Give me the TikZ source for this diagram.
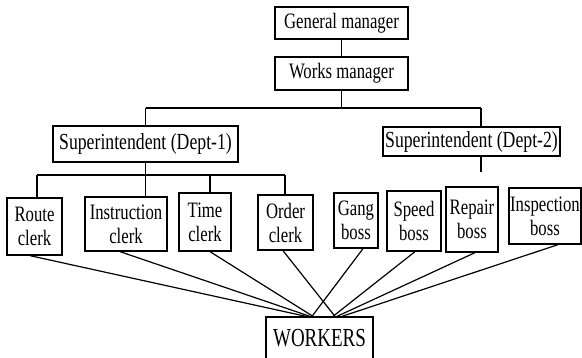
\documentclass[tikz,border=0pt]{standalone}
\usepackage{graphicx}
\usepackage{fontspec}
\setmainfont{Liberation Serif}
\newcommand{\sx}[1]{\scalebox{0.76}[1]{#1}}
\begin{document}
\begin{tikzpicture}[x=1pt,y=-1pt,
  box/.style={draw, line width=1.3pt, inner sep=0pt, align=center, font=\fontsize{22}{23}\selectfont},
  two/.style={box, font=\fontsize{22}{24}\selectfont},
  conn/.style={line width=1.2pt}]
\useasboundingbox (0,0) rectangle (582,357);
\clip (0,0) rectangle (582,357);
% top
\node[box, minimum width=133pt, minimum height=32pt] (gm) at (341.5,23) {\sx{General manager}};
\node[box, minimum width=133pt, minimum height=33pt] (wm) at (341.5,73.5) {\sx{Works manager}};
\node[box, minimum width=185pt, minimum height=36pt, font=\fontsize{23}{24}\selectfont] (s1) at (145.5,144) {\scalebox{0.77}[1]{Superintendent (Dept-1)}};
\node[box, minimum width=177pt, minimum height=29pt, font=\fontsize{23}{24}\selectfont] (s2) at (471.5,141.5) {\scalebox{0.77}[1]{Superintendent (Dept-2)}};
% lower boxes
\node[two, minimum width=55pt, minimum height=57pt] (route) at (34.5,226.5) {\sx{Route}\\\sx{clerk}};
\node[two, minimum width=82pt, minimum height=54pt] (instr) at (126,224) {\sx{Instruction}\\\sx{clerk}};
\node[two, minimum width=52pt, minimum height=58pt] (time) at (205,222) {\sx{Time}\\\sx{clerk}};
\node[two, minimum width=55pt, minimum height=55pt] (order) at (285.5,222.5) {\sx{Order}\\\sx{clerk}};
\node[two, minimum width=44pt, minimum height=55pt] (gang) at (356,220.5) {\sx{Gang}\\\sx{boss}};
\node[two, minimum width=54pt, minimum height=60pt] (speed) at (414,221) {\sx{Speed}\\\sx{boss}};
\node[two, minimum width=52pt, minimum height=65pt] (repair) at (472,219.5) {\sx{Repair}\\\sx{boss}};
\node[two, minimum width=72pt, minimum height=56pt] (insp) at (545,216) {\sx{Inspection}\\\sx{boss}};
\node[box, minimum width=107pt, minimum height=43pt, font=\fontsize{26}{27}\selectfont] (workers) at (319.5,338.5) {\scalebox{0.73}[1]{WORKERS}};
% tree connectors
\coordinate (barL) at (145.5,108);
\coordinate (barR) at (481,108);
\coordinate (barM) at (341.5,108);
\draw[conn] (gm) -- (wm);
\draw[conn] (wm) -- (barM);
\draw[conn] (barL) -- (barR);
\draw[conn] (barL) -- (s1.north);
\draw[conn] (barR) -- (barR |- s2.north);
\coordinate (d1) at (145.5,175);
\coordinate (d1L) at (37,175);
\coordinate (d1T) at (210,175);
\coordinate (d1R) at (285,175);
\draw[conn] (s1.south) -- (d1);
\draw[conn] (d1L) -- (d1R);
\draw[conn] (d1L) -- (d1L |- route.north);
\draw[conn] (d1) -- (d1 |- instr.north);
\draw[conn] (d1T) -- (d1T |- time.north);
\draw[conn] (d1R) -- (d1R |- order.north);
\coordinate (s2stub) at (481,172);
\draw[conn] (barR |- s2.south) -- (s2stub);
% lines to workers
\draw[conn] ([xshift=-4.5pt]route.south) -- ([xshift=-13.5pt]workers.north);
\draw[conn] ([xshift=-6pt]instr.south) -- ([xshift=-9.5pt]workers.north);
\draw[conn] ([xshift=5pt]time.south) -- ([xshift=-6.5pt]workers.north);
\draw[conn] ([xshift=-2.5pt]order.south) -- ([xshift=15.5pt]workers.north);
\draw[conn] ([xshift=7pt]gang.south) -- ([xshift=-7.5pt]workers.north);
\draw[conn] ([xshift=1pt]speed.south) -- ([xshift=13.5pt]workers.north);
\draw[conn] ([xshift=3pt]repair.south) -- ([xshift=17.5pt]workers.north);
\draw[conn] ([xshift=13pt]insp.south) -- ([xshift=22.5pt]workers.north);
\end{tikzpicture}
\end{document}
